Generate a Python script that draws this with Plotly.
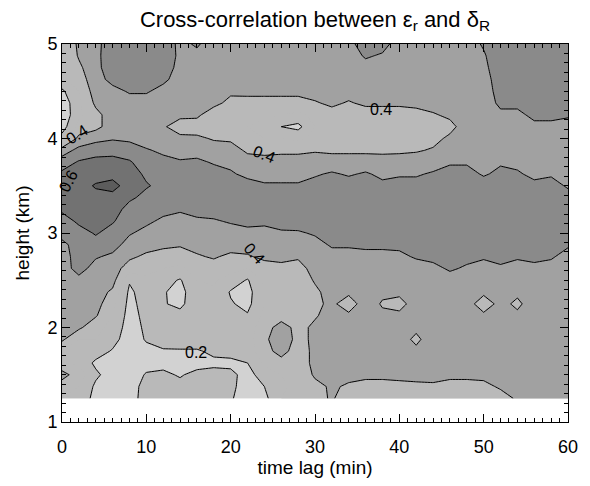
import numpy as np
import plotly.graph_objects as go

# time lag (min) of each grid column
lags = [0, 2, 4, 6, 8, 10, 12, 14, 16, 18, 20, 22, 24, 26, 28, 30,
        32, 34, 36, 38, 40, 42, 44, 46, 48, 50, 52, 54, 56, 58, 60]
# height (km) of each grid row, from top (5.0) to bottom (1.25)
heights = [5.0, 4.875, 4.75, 4.625, 4.5, 4.375, 4.25, 4.125, 4.0, 3.875,
           3.75, 3.625, 3.5, 3.375, 3.25, 3.125, 3.0, 2.875, 2.75, 2.625,
           2.5, 2.375, 2.25, 2.125, 2.0, 1.875, 1.75, 1.625, 1.5, 1.375, 1.25]

# cross-correlation, one list per time lag (top -> bottom)
c0  = [0.30,0.30,0.30,0.28,0.18, 0.13,0.12,0.15,0.24,0.45, 0.55,0.62,0.66,0.65,0.62, 0.55,0.54,0.47,0.45,0.45, 0.45,0.45,0.45,0.45,0.44, 0.42,0.30,0.34,0.43,0.36, 0.30]
c2  = [0.42,0.41,0.38,0.35,0.30, 0.28,0.28,0.33,0.43,0.53, 0.61,0.65,0.66,0.66,0.65, 0.62,0.56,0.55,0.55,0.54, 0.47,0.45,0.45,0.44,0.42, 0.30,0.28,0.27,0.36,0.30, 0.28]
c4  = [0.47,0.47,0.47,0.46,0.45, 0.42,0.37,0.37,0.47,0.56, 0.63,0.66,0.71,0.67,0.66, 0.64,0.61,0.56,0.51,0.46, 0.45,0.45,0.44,0.41,0.33, 0.30,0.25,0.18,0.22,0.18, 0.16]
c6  = [0.56,0.57,0.56,0.53,0.47, 0.45,0.45,0.45,0.49,0.57, 0.63,0.67,0.73,0.67,0.65, 0.61,0.56,0.54,0.48,0.45, 0.44,0.38,0.33,0.30,0.27, 0.24,0.19,0.16,0.15,0.17, 0.15]
c8  = [0.57,0.58,0.57,0.55,0.51, 0.46,0.45,0.45,0.48,0.55, 0.61,0.65,0.66,0.62,0.56, 0.54,0.51,0.46,0.42,0.35, 0.21,0.18,0.17,0.16,0.15, 0.14,0.14,0.14,0.14,0.15, 0.15]
c10 = [0.56,0.57,0.56,0.54,0.51, 0.46,0.45,0.44,0.45,0.51, 0.55,0.58,0.61,0.57,0.56, 0.52,0.47,0.44,0.38,0.33, 0.28,0.25,0.24,0.23,0.22, 0.21,0.17,0.16,0.21,0.24, 0.25]
c12 = [0.55,0.56,0.55,0.52,0.47, 0.45,0.44,0.41,0.44,0.48, 0.53,0.56,0.57,0.57,0.53, 0.48,0.45,0.42,0.36,0.30, 0.24,0.21,0.21,0.24,0.26, 0.24,0.19,0.17,0.22,0.27, 0.28]
c14 = [0.48,0.48,0.47,0.46,0.45, 0.44,0.42,0.36,0.42,0.46, 0.51,0.55,0.56,0.56,0.51, 0.47,0.45,0.41,0.35,0.28, 0.19,0.16,0.17,0.24,0.27, 0.25,0.19,0.17,0.19,0.23, 0.26]
c16 = [0.51,0.48,0.46,0.45,0.45, 0.44,0.42,0.35,0.42,0.46, 0.52,0.56,0.57,0.57,0.54, 0.48,0.45,0.43,0.39,0.34, 0.30,0.28,0.28,0.28,0.27, 0.25,0.19,0.16,0.23,0.25, 0.22]
c18 = [0.46,0.46,0.45,0.45,0.45, 0.43,0.34,0.32,0.39,0.45, 0.49,0.54,0.56,0.56,0.54, 0.49,0.45,0.43,0.41,0.36, 0.31,0.29,0.28,0.28,0.27, 0.25,0.22,0.18,0.23,0.25, 0.24]
c20 = [0.46,0.45,0.45,0.45,0.42, 0.37,0.32,0.31,0.38,0.45, 0.48,0.51,0.55,0.56,0.55, 0.51,0.46,0.44,0.38,0.33, 0.26,0.19,0.21,0.26,0.27, 0.26,0.23,0.18,0.22,0.22, 0.21]
c22 = [0.45,0.45,0.45,0.45,0.43, 0.36,0.32,0.30,0.32,0.38, 0.45,0.48,0.53,0.56,0.56, 0.53,0.47,0.44,0.39,0.30, 0.19,0.16,0.17,0.21,0.25, 0.26,0.24,0.20,0.17,0.16, 0.15]
c24 = [0.45,0.45,0.45,0.45,0.43, 0.36,0.31,0.28,0.30,0.37, 0.44,0.47,0.51,0.55,0.56, 0.52,0.47,0.45,0.42,0.36, 0.32,0.30,0.30,0.32,0.36, 0.38,0.37,0.32,0.24,0.20, 0.17]
c26 = [0.45,0.45,0.45,0.45,0.43, 0.36,0.30,0.20,0.30,0.38, 0.44,0.47,0.51,0.55,0.56, 0.53,0.49,0.46,0.42,0.38, 0.33,0.31,0.32,0.36,0.44, 0.46,0.43,0.37,0.30,0.28, 0.30]
c28 = [0.45,0.45,0.45,0.45,0.43, 0.36,0.28,0.17,0.28,0.38, 0.44,0.47,0.51,0.55,0.56, 0.54,0.49,0.46,0.41,0.37, 0.34,0.33,0.34,0.35,0.37, 0.37,0.36,0.36,0.35,0.33, 0.33]
c30 = [0.45,0.45,0.45,0.45,0.44, 0.39,0.32,0.30,0.32,0.39, 0.45,0.49,0.53,0.56,0.56, 0.55,0.51,0.47,0.45,0.43, 0.41,0.38,0.38,0.39,0.42, 0.42,0.42,0.42,0.41,0.38, 0.37]
c32 = [0.45,0.45,0.45,0.45,0.44, 0.42,0.36,0.33,0.33,0.38, 0.45,0.51,0.55,0.57,0.57, 0.56,0.55,0.51,0.47,0.45, 0.45,0.44,0.42,0.44,0.45, 0.45,0.45,0.44,0.42,0.41, 0.41]
c34 = [0.47,0.46,0.45,0.45,0.44, 0.39,0.34,0.32,0.33,0.38, 0.45,0.49,0.54,0.57,0.58, 0.57,0.55,0.51,0.47,0.45, 0.44,0.42,0.35,0.42,0.45, 0.45,0.45,0.44,0.42,0.39, 0.35]
c36 = [0.55,0.51,0.47,0.45,0.44, 0.42,0.35,0.32,0.33,0.38, 0.45,0.51,0.55,0.57,0.58, 0.57,0.55,0.52,0.47,0.45, 0.45,0.45,0.45,0.45,0.45, 0.45,0.45,0.44,0.42,0.37, 0.33]
c38 = [0.53,0.49,0.46,0.45,0.44, 0.42,0.35,0.32,0.33,0.38, 0.44,0.48,0.52,0.56,0.58, 0.57,0.55,0.52,0.47,0.45, 0.45,0.42,0.39,0.42,0.45, 0.45,0.45,0.44,0.42,0.37, 0.33]
c40 = [0.46,0.45,0.45,0.45,0.44, 0.42,0.35,0.32,0.33,0.38, 0.45,0.49,0.53,0.56,0.57, 0.56,0.54,0.52,0.48,0.45, 0.44,0.42,0.37,0.42,0.44, 0.44,0.44,0.44,0.43,0.37, 0.33]
c42 = [0.45,0.45,0.45,0.45,0.44, 0.43,0.36,0.33,0.34,0.39, 0.45,0.49,0.53,0.56,0.57, 0.57,0.55,0.53,0.51,0.46, 0.45,0.44,0.44,0.43,0.42, 0.38,0.42,0.44,0.43,0.38, 0.34]
c44 = [0.45,0.45,0.45,0.45,0.45, 0.44,0.39,0.34,0.37,0.41, 0.46,0.51,0.55,0.57,0.57, 0.57,0.56,0.54,0.52,0.48, 0.45,0.45,0.45,0.45,0.45, 0.45,0.45,0.44,0.42,0.39, 0.35]
c46 = [0.45,0.45,0.45,0.45,0.45, 0.44,0.42,0.37,0.42,0.45, 0.49,0.53,0.56,0.57,0.58, 0.57,0.56,0.55,0.53,0.51, 0.47,0.45,0.45,0.45,0.45, 0.45,0.45,0.44,0.42,0.37, 0.33]
c48 = [0.46,0.45,0.45,0.45,0.45, 0.45,0.45,0.45,0.45,0.46, 0.49,0.53,0.56,0.57,0.58, 0.57,0.56,0.54,0.52,0.49, 0.46,0.45,0.44,0.45,0.45, 0.45,0.45,0.44,0.42,0.37, 0.33]
c50 = [0.51,0.49,0.48,0.46,0.45, 0.45,0.45,0.45,0.45,0.46, 0.48,0.49,0.54,0.56,0.57, 0.57,0.56,0.54,0.51,0.47, 0.45,0.42,0.35,0.42,0.45, 0.45,0.45,0.44,0.42,0.38, 0.34]
c52 = [0.56,0.56,0.55,0.55,0.54, 0.52,0.48,0.46,0.45,0.46, 0.49,0.52,0.55,0.57,0.57, 0.57,0.56,0.54,0.52,0.49, 0.46,0.44,0.43,0.44,0.45, 0.44,0.44,0.44,0.42,0.41, 0.37]
c54 = [0.57,0.57,0.56,0.56,0.55, 0.52,0.48,0.46,0.45,0.46, 0.48,0.51,0.55,0.56,0.57, 0.57,0.56,0.54,0.51,0.47, 0.45,0.42,0.38,0.42,0.45, 0.45,0.45,0.45,0.44,0.43, 0.41]
c56 = [0.57,0.57,0.57,0.56,0.56, 0.54,0.52,0.48,0.46,0.45, 0.46,0.48,0.52,0.55,0.56, 0.56,0.55,0.54,0.52,0.48, 0.45,0.45,0.45,0.45,0.45, 0.45,0.45,0.45,0.45,0.44, 0.44]
c58 = [0.57,0.57,0.57,0.56,0.56, 0.54,0.52,0.48,0.46,0.45, 0.46,0.49,0.53,0.55,0.56, 0.56,0.55,0.53,0.51,0.47, 0.45,0.45,0.45,0.45,0.45, 0.45,0.45,0.45,0.45,0.44, 0.44]
c60 = [0.56,0.56,0.56,0.55,0.55, 0.53,0.51,0.47,0.45,0.45, 0.45,0.46,0.49,0.53,0.55, 0.55,0.54,0.51,0.47,0.45, 0.45,0.45,0.45,0.45,0.45, 0.45,0.45,0.45,0.45,0.44, 0.44]

columns = [c0, c2, c4, c6, c8, c10, c12, c14, c16, c18, c20, c22, c24, c26, c28,
           c30, c32, c34, c36, c38, c40, c42, c44, c46, c48, c50, c52, c54, c56, c58, c60]

# contour labels: (text, lag, height, angle)
labels = [("0.4", 1.8, 4.04, -32), ("0.6", 0.7, 3.55, -62), ("0.4", 24.0, 3.83, 22),
          ("0.4", 37.8, 4.31, 0), ("0.4", 22.8, 2.78, 48), ("0.2", 15.9, 1.74, 0)]

# gray shade for each band: <0.1, 0.1-0.2, 0.2-0.3, 0.3-0.4, 0.4-0.5, 0.5-0.6, 0.6-0.7, >0.7
band_colors = ["#d2d2d2", "#d2d2d2", "#b9b9b9", "#b9b9b9", "#a1a1a1", "#8a8a8a", "#727272", "#5c5c5c"]

z = np.array(columns).T[::-1]
y = heights[::-1]

font = "Liberation Sans"
fig = go.Figure()
fig.add_trace(go.Contour(
    x=lags, y=y, z=z, autocontour=False,
    contours=dict(start=0.1, end=0.705, size=0.1, coloring="fill", showlines=False),
    colorscale=[[k / 7, c] for k, c in enumerate(band_colors)],
    line=dict(width=0, smoothing=0), showscale=False, hoverinfo="skip"))
fig.add_trace(go.Contour(
    x=lags, y=y, z=z, autocontour=False,
    contours=dict(start=0.2, end=0.405, size=0.2, coloring="none"),
    line=dict(color="black", width=1, smoothing=0), showscale=False, hoverinfo="skip"))
fig.add_trace(go.Contour(
    x=lags, y=y, z=z, autocontour=False,
    contours=dict(start=0.5, end=0.705, size=0.1, coloring="none"),
    line=dict(color="black", width=1, smoothing=0), showscale=False, hoverinfo="skip"))

for text, lx, ly, ang in labels:
    fig.add_annotation(x=lx, y=ly, text=text, showarrow=False, textangle=ang,
                       font=dict(size=16, color="black", family=font))

axis_common = dict(showline=True, linecolor="black", linewidth=1, mirror="ticks",
                   ticks="inside", ticklen=8, tickwidth=1.2, tickcolor="black",
                   showgrid=False, zeroline=False,
                   tickfont=dict(size=18, color="black", family=font))
fig.update_xaxes(range=[0, 60], tick0=0, dtick=10, ticklabelstandoff=8,
                 minor=dict(dtick=1, ticks="inside", ticklen=4, tickwidth=1, tickcolor="black", showgrid=False),
                 title=dict(text="time lag (min)", font=dict(size=19, color="black", family=font), standoff=4),
                 **axis_common)
fig.update_yaxes(range=[1, 5], tick0=0, dtick=1,
                 minor=dict(dtick=0.1, ticks="inside", ticklen=4, tickwidth=1, tickcolor="black", showgrid=False),
                 title=dict(text="height (km)", font=dict(size=19, color="black", family=font), standoff=12),
                 **axis_common)
fig.update_layout(
    width=590, height=486, margin=dict(l=62, r=12, t=44, b=58),
    paper_bgcolor="white", plot_bgcolor="white",
    title=dict(text="Cross-correlation between ε<sub>r</sub> and δ<sub>R</sub>",
               x=0.5, xref="paper", xanchor="center", y=1 - 19 / 486, yref="container",
               yanchor="middle", font=dict(size=22, color="black", family=font)),
    showlegend=False)
fig.write_html("out.html")
